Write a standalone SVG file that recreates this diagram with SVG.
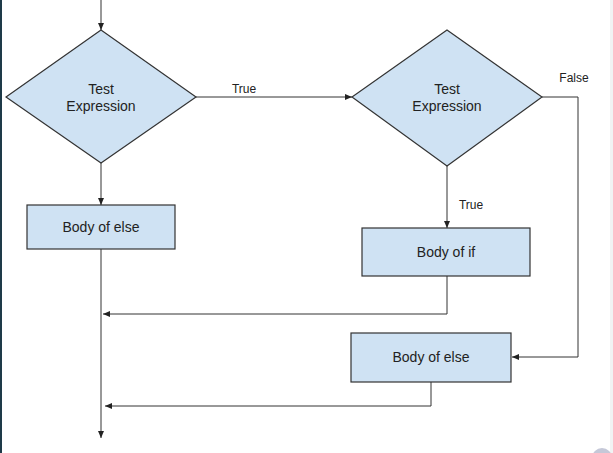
<svg xmlns="http://www.w3.org/2000/svg" width="613" height="453" viewBox="0 0 613 453">
<defs><marker id="a" markerWidth="8" markerHeight="8" refX="7" refY="4" orient="auto" markerUnits="userSpaceOnUse"><path d="M0,1 L7,4 L0,7 Z" fill="#222"/></marker>
<style>.s{fill:#cfe2f3;stroke:#333;stroke-width:1.2}.t{font-family:"Liberation Sans",Arial,sans-serif;font-size:14px;fill:#222;text-anchor:middle}.l{font-family:"Liberation Sans",Arial,sans-serif;font-size:12px;fill:#222;text-anchor:middle}.c{fill:none;stroke:#333;stroke-width:1}</style></defs>
<rect width="613" height="453" fill="#fff"/>
<rect x="0" y="0" width="2" height="453" fill="#1e3a48"/>
<rect x="610" y="0" width="3" height="453" fill="#f1f3f4"/>
<circle cx="602" cy="458" r="10" fill="#c5c8d8"/>
<g id="connectors">
<path class="c" d="M101,0 V30" marker-end="url(#a)"/>
<path class="c" d="M196,97 H352" marker-end="url(#a)"/>
<path class="c" d="M542,97 H578 V357 H512" marker-end="url(#a)"/>
<path class="c" d="M101,163 V205" marker-end="url(#a)"/>
<path class="c" d="M447,166 V228" marker-end="url(#a)"/>
<path class="c" d="M447,276 V314 H103" marker-end="url(#a)"/>
<path class="c" d="M431,382 V406 H105" marker-end="url(#a)"/>
<path class="c" d="M101,249 V438" marker-end="url(#a)"/>
<text class="l" x="244" y="93">True</text>
<text class="l" x="574" y="82">False</text>
<text class="l" x="471" y="209">True</text>
</g>
<g id="d1"><polygon class="s" points="101,30 196,97 101,163 6,97"/><text class="t" x="101" y="94">Test</text><text class="t" x="101" y="111">Expression</text></g>
<g id="d2"><polygon class="s" points="447,30 542,97 447,166 352,97"/><text class="t" x="447" y="94">Test</text><text class="t" x="447" y="111">Expression</text></g>
<g id="else1"><rect class="s" x="27" y="205" width="148" height="44"/><text class="t" x="101" y="232">Body of else</text></g>
<g id="if"><rect class="s" x="362" y="228" width="168" height="48"/><text class="t" x="446" y="257">Body of if</text></g>
<g id="else2"><rect class="s" x="351" y="333" width="160" height="49"/><text class="t" x="431" y="362">Body of else</text></g>
</svg>
